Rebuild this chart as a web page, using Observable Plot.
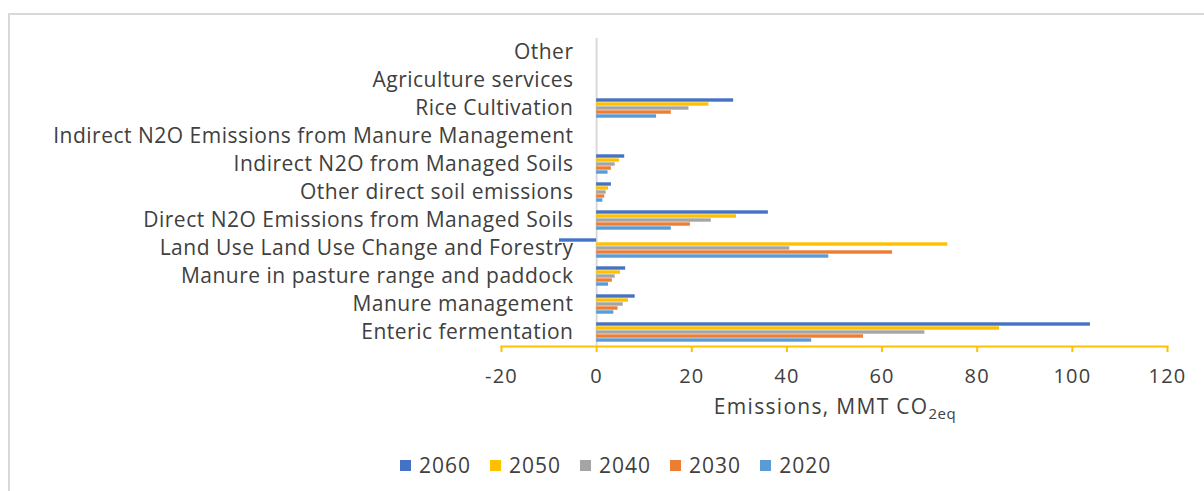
<!DOCTYPE html>
<html>
<head>
<meta charset="utf-8">
<script src="https://cdn.jsdelivr.net/npm/d3@7"></script>
<script src="https://cdn.jsdelivr.net/npm/@observablehq/plot@0.6"></script>
<style>
  body { margin: 0; background: #fff; font-family: "Open Sans", sans-serif; color: #404040; }
  #wrap { position: relative; width: 1204px; height: 491px; overflow: hidden; }
  #frame { position: absolute; left: 8px; top: 13px; right: -10px; bottom: -10px; border: 2px solid #d9d9d9; box-sizing: border-box; }
  #chart { position: absolute; left: 0; top: 0; }
  #chart g[aria-label="fy-axis tick label"] text { letter-spacing: 0.5px; }
  #chart g[aria-label="x-axis tick label"] text { letter-spacing: 1.2px; }
  #xtitle { position: absolute; top: 392px; left: 835px; transform: translateX(-50%); font-size: 21px; letter-spacing: 1.3px; white-space: nowrap; }
  #xtitle sub { font-size: 15px; vertical-align: -5px; letter-spacing: 0.5px; }
  #legend { position: absolute; top: 451px; left: 400px; display: flex; font-size: 21px; letter-spacing: 1px; }
  .item { display: flex; align-items: center; margin-right: 19px; }
  .sw { width: 11px; height: 11px; margin-right: 8px; }
</style>
</head>
<body>
<div id="wrap">
  <div id="frame"></div>
  <div id="chart"></div>
  <div id="xtitle">Emissions, MMT CO<sub>2eq</sub></div>
  <div id="legend"></div>
</div>
<script>
const categories = [
  "Other",
  "Agriculture services",
  "Rice Cultivation",
  "Indirect N2O Emissions from Manure Management",
  "Indirect N2O from Managed Soils",
  "Other direct soil emissions",
  "Direct N2O Emissions from Managed Soils",
  "Land Use Land Use Change and Forestry",
  "Manure in pasture range and paddock",
  "Manure management",
  "Enteric fermentation"
];
const years = ["2060", "2050", "2040", "2030", "2020"];
const v2060 = [0, 0, 28.8, 0, 5.9, 3.1, 36.1, -7.8, 6.1, 8.1, 103.8];
const v2050 = [0, 0, 23.6, 0, 4.8, 2.5, 29.4, 73.8, 5.0, 6.7, 84.7];
const v2040 = [0, 0, 19.4, 0, 3.9, 2.0, 24.1, 40.6, 3.9, 5.6, 69.0];
const v2030 = [0, 0, 15.7, 0, 3.1, 1.7, 19.7, 62.2, 3.3, 4.5, 56.1];
const v2020 = [0, 0, 12.6, 0, 2.4, 1.3, 15.7, 48.8, 2.5, 3.6, 45.2];
const colors = ["#4472C4", "#FFC000", "#A5A5A5", "#ED7D31", "#5B9BD5"];
const xTicks = [-20, 0, 20, 40, 60, 80, 100, 120];

const series = {"2060": v2060, "2050": v2050, "2040": v2040, "2030": v2030, "2020": v2020};
const data = [];
categories.forEach((c, i) => {
  years.forEach(y => data.push({category: c, year: y, value: series[y][i]}));
});

const chart = Plot.plot({
  width: 1204,
  height: 430,
  marginLeft: 501,
  marginRight: 37,
  marginTop: 38,
  marginBottom: 83,
  style: {fontFamily: "'Open Sans', sans-serif", color: "#404040", background: "transparent"},
  x: {domain: [-20, 120], axis: null},
  y: {domain: years, axis: null, padding: 0},
  fy: {domain: categories, paddingInner: 0.27, paddingOuter: 0.135, axis: null, label: null},
  color: {domain: years, range: colors},
  marks: [
    Plot.ruleX([0], {stroke: "#d9d9d9", strokeWidth: 2, insetTop: -4, insetBottom: -4}),
    Plot.barX(data, {fy: "category", y: "year", x: "value", fill: "year", insetTop: 0.3, insetBottom: 0.3}),
    Plot.axisFy({anchor: "left", tickSize: 0, tickPadding: -72, fontSize: 21, label: null, fill: "#404040"}),
    Plot.frame({anchor: "bottom", stroke: "#FFC000", strokeWidth: 2, facetAnchor: "bottom", dy: 4}),
    Plot.axisX({ticks: xTicks, tickFormat: d => String(d), tickSize: 6, stroke: "#FFC000", strokeWidth: 2, tickPadding: 16, fontSize: 20, label: null, dy: 4, fill: "#404040"})
  ]
});
document.getElementById("chart").appendChild(chart);

const legend = document.getElementById("legend");
years.forEach((y, i) => {
  const it = document.createElement("div");
  it.className = "item";
  const sw = document.createElement("div");
  sw.className = "sw";
  sw.style.background = colors[i];
  const t = document.createElement("span");
  t.textContent = y;
  it.appendChild(sw);
  it.appendChild(t);
  legend.appendChild(it);
});
</script>
</body>
</html>
